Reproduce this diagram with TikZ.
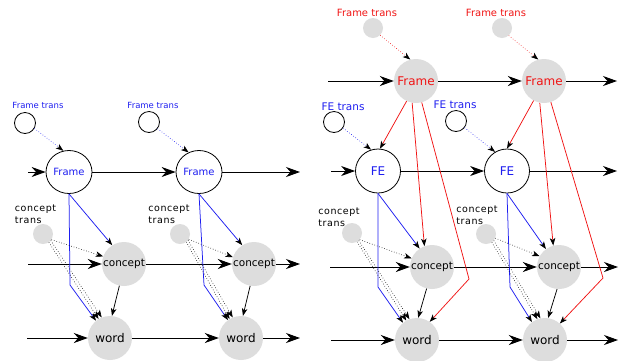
\documentclass[tikz,border=0pt]{standalone}
\usepackage{fontspec}
\setmainfont{DejaVu Sans}
\newfontfamily\spaced[LetterSpace=6]{DejaVu Sans}
\usetikzlibrary{shapes.geometric,arrows.meta}
\definecolor{gfill}{RGB}{221,221,221}
\definecolor{myblue}{RGB}{30,30,240}
\definecolor{myred}{RGB}{240,20,20}
\begin{document}
\begin{tikzpicture}[x=1pt,y=-1pt,
  big/.style={-{Stealth[length=14pt,width=10pt,inset=4.5pt]}, line width=0.9pt},
  small/.style={-{Stealth[length=7.5pt,width=5.5pt,inset=2pt,black]}},
  onode/.style={ellipse, draw, line width=0.8pt, fill=white, inner sep=0pt, minimum width=46pt, minimum height=43pt},
  gnode/.style={circle, fill=gfill, inner sep=0pt, minimum size=44pt},
  cnode/.style={circle, fill=gfill, inner sep=0pt, minimum size=44pt, font=\fontsize{10.5}{12}\selectfont},
  wnode/.style={circle, fill=gfill, inner sep=0pt, minimum size=44pt, font=\fontsize{12}{14}\selectfont},
  ocirc/.style={circle, draw, line width=0.8pt, fill=white, minimum size=21pt, inner sep=0pt},
  gcirc/.style={circle, fill=gfill, minimum size=20pt, inner sep=0pt},
  ctlab/.style={align=left, font=\fontsize{9.5}{12}\spaced, inner sep=0pt},
  bl/.style={myblue, line width=0.75pt, small},
  rd/.style={myred, line width=0.75pt, small},
  dot/.style={dotted, line width=0.6pt, small}]
\useasboundingbox (0,0) rectangle (621,360);

% ---------------- left diagram ----------------
\node[text=myblue, font=\fontsize{8.5}{10}\selectfont] (ftl1) at (38,105) {Frame trans};
\node[text=myblue, font=\fontsize{8.5}{10}\selectfont] (ftl2) at (153,105) {Frame trans};
\node[ocirc] (ftc1) at (25,123) {};
\node[ocirc] (ftc2) at (149,122) {};
\node[onode, text=myblue, font=\fontsize{10}{12}\selectfont] (F1) at (69,172) {Frame};
\node[onode, text=myblue, font=\fontsize{10}{12}\selectfont] (F2) at (199,172) {Frame};
\node[ctlab] (ctl1) at (35.5,214) {concept\\trans};
\node[ctlab] (ctl2) at (169,214) {concept\\trans};
\node[gcirc] (ctc1) at (43,234) {};
\node[gcirc] (ctc2) at (180,234) {};
\node[cnode] (C1) at (124,264) {concept};
\node[cnode] (C2) at (254,264) {concept};
\node[wnode] (W1) at (110,338) {word};
\node[wnode] (W2) at (241,338) {word};

\coordinate (lf0) at (28,172);
\coordinate (lf3) at (300,172);
\coordinate (lc0) at (28,264);
\coordinate (lc3) at (300,264);
\coordinate (lw0) at (27,338);
\coordinate (lw3) at (300,338);
\draw[big] (lf0) -- (F1);
\draw[big] (F1) -- (F2);
\draw[big] (F2) -- (lf3);
\draw[big] (lc0) -- (C1);
\draw[big] (C1) -- (C2);
\draw[big] (C2) -- (lc3);
\draw[big] (lw0) -- (W1);
\draw[big] (W1) -- (W2);
\draw[big] (W2) -- (lw3);

\draw[myblue, dotted, line width=0.6pt, small] (ftc1.-30) -- (F1.105);
\draw[myblue, dotted, line width=0.6pt, small] (ftc2.-38) -- (F2.118);

\coordinate (lb1) at (70,285);
\coordinate (lb2) at (204,285);
\draw[bl] (F1.south) -- (C1.122);
\draw[bl] (F1.south) -- (lb1) -- (W1.129);
\draw[bl] (F2.south) -- (C2.122);
\draw[bl] (F2.south) -- (lb2) -- (W2.126);

\draw[dot] (ctc1.-34) -- (C1.160);
\draw[dot] (ctc1.-40) -- (W1.112);
\draw[dot] (ctc1.-55) -- (W1.121);
\draw[dot] (ctc2.-31) -- (C2.162);
\draw[dot] (ctc2.-38) -- (W2.112);
\draw[dot] (ctc2.-52) -- (W2.121);

\draw[line width=0.75pt, small] (C1.258) -- (W1.85);
\draw[line width=0.75pt, small] (C2.260) -- (W2.85);

% ---------------- right diagram ----------------
\node[text=myred, font=\fontsize{10}{12}\selectfont] (rftl1) at (367,13) {Frame trans};
\node[text=myred, font=\fontsize{10}{12}\selectfont] (rftl2) at (496,13) {Frame trans};
\node[gcirc] (rftc1) at (373,28) {};
\node[gcirc] (rftc2) at (502,28) {};
\node[gnode, text=myred, font=\fontsize{12}{14}\selectfont] (RF1) at (416,81) {Frame};
\node[gnode, text=myred, font=\fontsize{12}{14}\selectfont] (RF2) at (544,81) {Frame};
\node[text=myblue, font=\fontsize{10.5}{12}\selectfont] (fetl1) at (343,107) {FE trans};
\node[text=myblue, font=\fontsize{10.5}{12}\selectfont] (fetl2) at (455,105) {FE trans};
\node[ocirc] (fetc1) at (334,122) {};
\node[ocirc] (fetc2) at (456,121) {};
\node[onode, text=myblue, font=\fontsize{12}{14}\selectfont, minimum width=45pt, minimum height=44pt] (FE1) at (378,171) {FE};
\node[onode, text=myblue, font=\fontsize{12}{14}\selectfont, minimum width=45pt, minimum height=44pt] (FE2) at (507,171) {FE};
\node[ctlab] (rctl1) at (339,217) {concept\\trans};
\node[ctlab] (rctl2) at (477,215) {concept\\trans};
\node[gcirc] (rctc1) at (352,233) {};
\node[gcirc] (rctc2) at (486,234) {};
\node[cnode] (RC1) at (432,267) {concept};
\node[cnode] (RC2) at (559,267) {concept};
\node[wnode] (RW1) at (417,340) {word};
\node[wnode] (RW2) at (545,340) {word};

\coordinate (rf0) at (328,81);
\coordinate (rf3) at (617,81);
\coordinate (re0) at (331,171);
\coordinate (re3) at (617,171);
\coordinate (rc0) at (330,267);
\coordinate (rc3) at (618,267);
\coordinate (rw0) at (331,340);
\coordinate (rw3) at (618,340);
\draw[big] (rf0) -- (RF1);
\draw[big] (RF1) -- (RF2);
\draw[big] (RF2) -- (rf3);
\draw[big] (re0) -- (FE1);
\draw[big] (FE1) -- (FE2);
\draw[big] (FE2) -- (re3);
\draw[big] (rc0) -- (RC1);
\draw[big] (RC1) -- (RC2);
\draw[big] (RC2) -- (rc3);
\draw[big] (rw0) -- (RW1);
\draw[big] (RW1) -- (RW2);
\draw[big] (RW2) -- (rw3);

\draw[myred, dotted, line width=0.6pt, small] (rftc1.-45) -- (RF1.105);
\draw[myred, dotted, line width=0.6pt, small] (rftc2.-48) -- (RF2.105);
\draw[myblue, dotted, line width=0.6pt, small] (fetc1.-34) -- (FE1.108);
\draw[myblue, dotted, line width=0.6pt, small] (fetc2.-38) -- (FE2.122);

\coordinate (rr1) at (469,279);
\coordinate (rr2) at (603,278);
\draw[rd] (RF1.245) -- (FE1.85);
\draw[rd] (RF1.260) -- (RC1.110);
\draw[rd] (RF1.285) -- (rr1) -- (RW1.55);
\draw[rd] (RF2.242) -- (FE2.90);
\draw[rd] (RF2.259) -- (RC2.105);
\draw[rd] (RF2.288) -- (rr2) -- (RW2.48);

\coordinate (rb1) at (378,287);
\coordinate (rb2) at (510,287);
\draw[bl] (FE1.south) -- (RC1.124);
\draw[bl] (FE1.south) -- (rb1) -- (RW1.129);
\draw[bl] (FE2.south) -- (RC2.126);
\draw[bl] (FE2.south) -- (rb2) -- (RW2.126);

\draw[dot] (rctc1.-41) -- (RC1.157);
\draw[dot] (rctc1.-48) -- (RW1.110);
\draw[dot] (rctc1.-60) -- (RW1.119);
\draw[dot] (rctc2.-24) -- (RC2.151);
\draw[dot] (rctc2.-40) -- (RW2.102);
\draw[dot] (rctc2.-55) -- (RW2.110);

\draw[line width=0.75pt, small] (RC1.256) -- (RW1.87);
\draw[line width=0.75pt, small] (RC2.265) -- (RW2.82);
\end{tikzpicture}
\end{document}
